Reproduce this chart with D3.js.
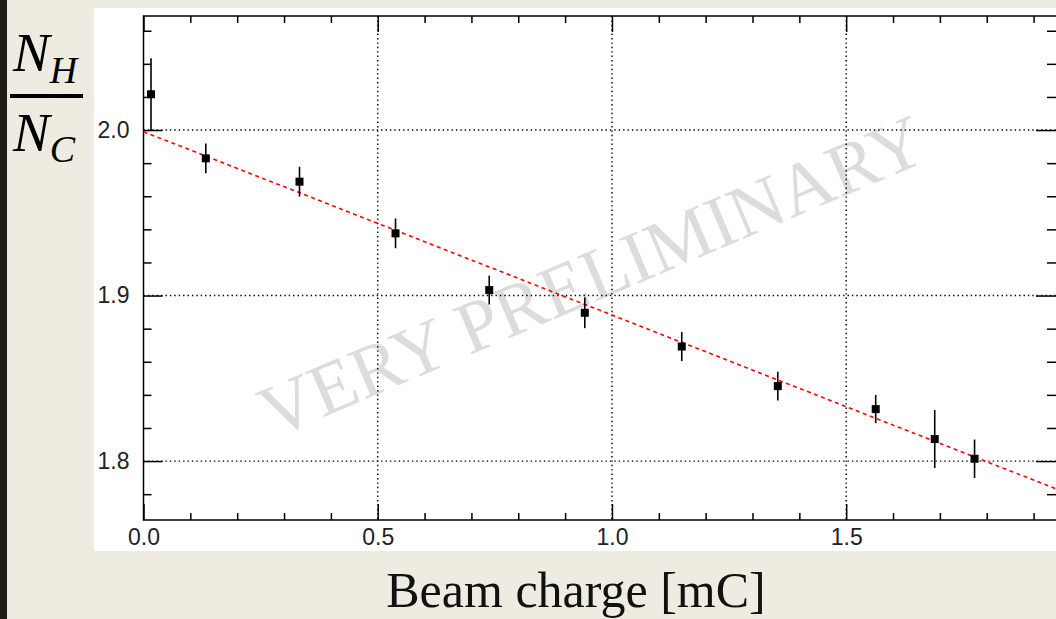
<!DOCTYPE html>
<html>
<head>
<meta charset="utf-8">
<script src="https://cdn.jsdelivr.net/npm/d3@7"></script>
<style>
  html, body { margin: 0; padding: 0; background: #eeebe0; }
  svg { display: block; }
  .tick text { font-family: "Liberation Sans", Arial, sans-serif; font-size: 23px; fill: #222; }
</style>
</head>
<body>
<svg width="1056" height="619"></svg>
<script>
(function () {
  "use strict";

  // beam charge [mC]
  const charge = [0.016, 0.133, 0.333, 0.538, 0.738, 0.942, 1.149, 1.354, 1.563, 1.689, 1.774];
  // N_H / N_C ratio
  const ratio = [2.0216, 1.9829, 1.9688, 1.9376, 1.9033, 1.8896, 1.8692, 1.8453, 1.8314, 1.8133, 1.8014];
  const ratioErr = [0.0217, 0.009, 0.009, 0.009, 0.0087, 0.0093, 0.0088, 0.0087, 0.0085, 0.0175, 0.0116];
  // linear fit end points
  const fitX = [0, 1.95];
  const fitY = [1.999, 1.783];

  const xMajor = [0.0, 0.5, 1.0, 1.5];
  const xMinor = [0.1, 0.2, 0.3, 0.4, 0.6, 0.7, 0.8, 0.9, 1.1, 1.2, 1.3, 1.4, 1.6, 1.7, 1.8, 1.9];
  const yMajor = [1.8, 1.9, 2.0];
  const yMinor = [1.78, 1.82, 1.84, 1.86, 1.88, 1.92, 1.94, 1.96, 1.98, 2.02, 2.04, 2.06];

  const svg = d3.select("svg");
  const width = +svg.attr("width");
  const height = +svg.attr("height");

  // dark strip on the left and white panel
  svg.append("rect").attr("x", 0).attr("y", 0).attr("width", 7).attr("height", height).attr("fill", "#1c1c12");
  svg.append("rect").attr("x", 94).attr("y", 8).attr("width", width - 94).attr("height", 543).attr("fill", "#ffffff");

  const left = 143.5, right = 1057, top = 16, bottom = 520;
  const x = d3.scaleLinear().domain([0, 1.95]).range([left, right]);
  const y = d3.scaleLinear().domain([1.7644, 2.0689]).range([bottom, top]);

  // watermark
  svg.append("text")
    .attr("transform", "translate(592,276) rotate(-23)")
    .attr("text-anchor", "middle")
    .attr("dominant-baseline", "central")
    .attr("font-family", "'Liberation Serif', 'Times New Roman', serif")
    .attr("font-size", 74)
    .attr("fill", "#dcdcdc")
    .text("VERY PRELIMINARY");

  // grid
  const grid = svg.append("g").attr("stroke", "#000").attr("stroke-width", 1.4).attr("stroke-dasharray", "1.4,3");
  grid.selectAll("line.gx").data(xMajor.slice(1)).enter().append("line")
    .attr("x1", d => x(d)).attr("x2", d => x(d)).attr("y1", top).attr("y2", bottom);
  grid.selectAll("line.gy").data(yMajor).enter().append("line")
    .attr("x1", left).attr("x2", right).attr("y1", d => y(d)).attr("y2", d => y(d));

  const styleAxis = (g) => {
    g.select(".domain").remove();
    g.selectAll(".tick line").attr("stroke", "#000").attr("stroke-width", 1.5);
  };

  // bottom axis
  svg.append("g").attr("transform", `translate(0,${bottom})`)
    .call(d3.axisBottom(x).tickValues(xMajor).tickSize(-16).tickFormat(d3.format(".1f")))
    .call(styleAxis)
    .selectAll("text").attr("y", 9);
  svg.append("g").attr("transform", `translate(0,${bottom})`)
    .call(d3.axisBottom(x).tickValues(xMinor).tickSize(-7).tickFormat(""))
    .call(styleAxis);
  // top axis
  svg.append("g").attr("transform", `translate(0,${top})`)
    .call(d3.axisTop(x).tickValues(xMajor).tickSize(-16).tickFormat(""))
    .call(styleAxis);
  svg.append("g").attr("transform", `translate(0,${top})`)
    .call(d3.axisTop(x).tickValues(xMinor).tickSize(-7).tickFormat(""))
    .call(styleAxis);
  // left axis
  svg.append("g").attr("transform", `translate(${left},0)`)
    .call(d3.axisLeft(y).tickValues(yMajor).tickSize(-19).tickFormat(d3.format(".1f")))
    .call(styleAxis)
    .selectAll("text").attr("x", -14);
  svg.append("g").attr("transform", `translate(${left},0)`)
    .call(d3.axisLeft(y).tickValues(yMinor).tickSize(-8).tickFormat(""))
    .call(styleAxis);
  // right axis
  svg.append("g").attr("transform", `translate(${right},0)`)
    .call(d3.axisRight(y).tickValues(yMajor).tickSize(-21).tickFormat(""))
    .call(styleAxis);
  svg.append("g").attr("transform", `translate(${right},0)`)
    .call(d3.axisRight(y).tickValues(yMinor).tickSize(-10).tickFormat(""))
    .call(styleAxis);

  // frame
  svg.append("rect")
    .attr("x", left).attr("y", top).attr("width", right - left).attr("height", bottom - top)
    .attr("fill", "none").attr("stroke", "#000").attr("stroke-width", 1.5);

  // fit line
  svg.append("line")
    .attr("x1", x(fitX[0])).attr("y1", y(fitY[0]))
    .attr("x2", x(fitX[1])).attr("y2", y(fitY[1]))
    .attr("stroke", "#ff0000").attr("stroke-width", 1.6).attr("stroke-dasharray", "4,3.5");

  const data = charge.map((c, i) => ({ c: c, r: ratio[i], e: ratioErr[i] }));

  // error bars
  svg.append("g").selectAll("line").data(data).enter().append("line")
    .attr("x1", d => x(d.c)).attr("x2", d => x(d.c))
    .attr("y1", d => y(d.r + d.e)).attr("y2", d => y(d.r - d.e))
    .attr("stroke", "#000").attr("stroke-width", 1.6);

  // markers
  svg.append("g").selectAll("rect").data(data).enter().append("rect")
    .attr("x", d => x(d.c) - 4).attr("y", d => y(d.r) - 4)
    .attr("width", 8).attr("height", 8)
    .attr("fill", "#000");

  // axis title
  svg.append("text")
    .attr("x", 576).attr("y", 607)
    .attr("text-anchor", "middle")
    .attr("font-family", "'Liberation Serif', 'Times New Roman', serif")
    .attr("font-size", 50)
    .attr("fill", "#111")
    .text("Beam charge [mC]");

  // y title as fraction N_H / N_C
  const serif = "'Liberation Serif', 'Times New Roman', serif";
  const num = svg.append("text").attr("x", 13).attr("y", 71)
    .attr("font-family", serif).attr("font-style", "italic").attr("fill", "#000");
  num.append("tspan").attr("font-size", 55).text("N");
  num.append("tspan").attr("font-size", 38).attr("dy", 12).text("H");
  svg.append("rect").attr("x", 10).attr("y", 94).attr("width", 73).attr("height", 4).attr("fill", "#000");
  const den = svg.append("text").attr("x", 13).attr("y", 151)
    .attr("font-family", serif).attr("font-style", "italic").attr("fill", "#000");
  den.append("tspan").attr("font-size", 55).text("N");
  den.append("tspan").attr("font-size", 38).attr("dy", 11).text("C");
})();
</script>
</body>
</html>
